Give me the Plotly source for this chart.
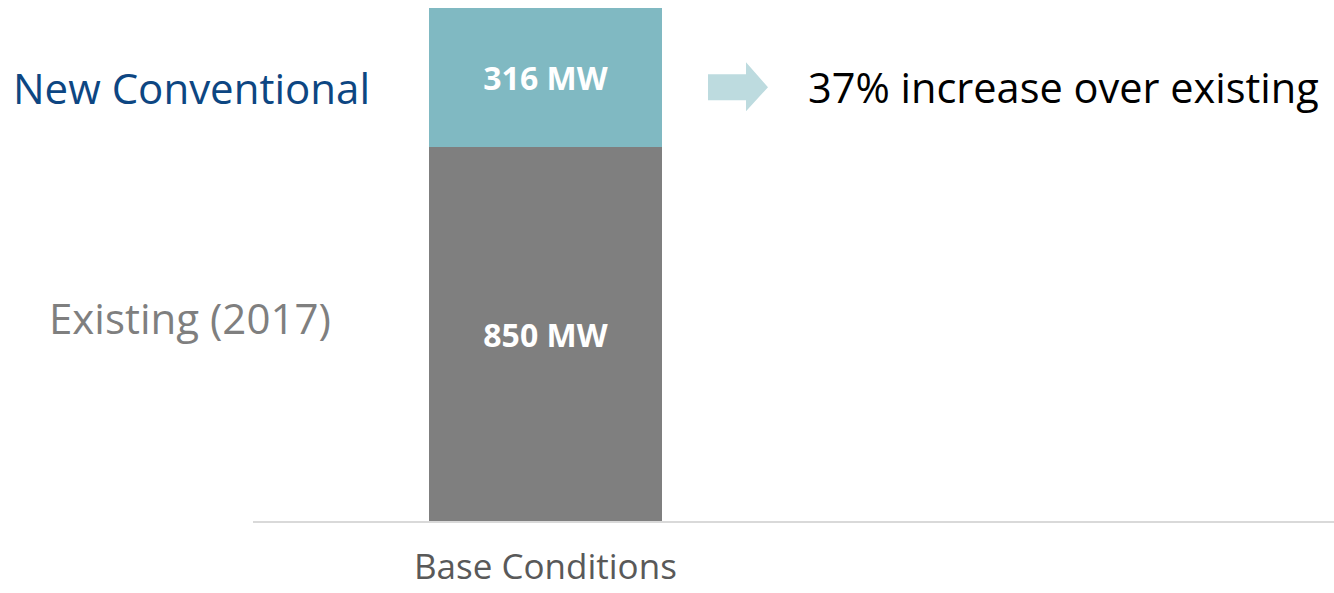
import plotly.graph_objects as go

categories = ["Base Conditions"]
existing_mw = [850]
new_conv_mw = [316]
series_names = ["Existing (2017)", "New Conventional"]
callout_text = "37% increase over existing"

FONT = "Open Sans, Lato, sans-serif"
C_EXIST = "#7f7f7f"
C_NEW = "#80b9c2"
C_ARROW = "#bddbdf"

total = existing_mw[0] + new_conv_mw[0]

fig = go.Figure()
fig.add_trace(go.Bar(
    x=[0], y=existing_mw, width=1, marker=dict(color=C_EXIST, line_width=0),
    text=[f"{v} MW" for v in existing_mw], textposition="inside", insidetextanchor="middle",
    textfont=dict(color="white", size=32, family=FONT, weight="bold"), name=series_names[0],
))
fig.add_trace(go.Bar(
    x=[0], y=new_conv_mw, width=1, marker=dict(color=C_NEW, line_width=0),
    text=[f"{v} MW" for v in new_conv_mw], textposition="inside", insidetextanchor="middle",
    textfont=dict(color="white", size=32, family=FONT, weight="bold"), name=series_names[1],
))

left_units = 292.5 / 233
fig.update_layout(
    barmode="stack",
    width=1334, height=593,
    margin=dict(l=253, r=0, t=8, b=72),
    paper_bgcolor="white", plot_bgcolor="white",
    showlegend=False,
    font=dict(family=FONT),
    xaxis=dict(range=[-left_units, -left_units + 1081 / 233], tickvals=[0], ticktext=[""],
               showgrid=False, zeroline=False, showline=True, linecolor="#d9d9d9", linewidth=2,
               ticks="", showticklabels=False, automargin=False),
    yaxis=dict(range=[0, total], visible=False, fixedrange=True, automargin=False),
    uniformtext=dict(mode=False),
)

# category label under the bar
for i, cat in enumerate(categories):
    fig.add_annotation(x=i, xref="x", y=0, yref="paper", yanchor="bottom", yshift=-70,
                       text=cat, showarrow=False,
                       font=dict(size=35, color="#595959", family=FONT))

new_mid = existing_mw[0] + new_conv_mw[0] * 0.43
ex_mid = existing_mw[0] * 0.543

fig.add_annotation(x=-left_units, xref="x", y=new_mid, yref="y", xanchor="right", xshift=119,
                   text=series_names[1], showarrow=False,
                   font=dict(size=42, color="#0d4682", family=FONT))
fig.add_annotation(x=-left_units, xref="x", y=ex_mid, yref="y", xanchor="right", xshift=80,
                   text=series_names[0], showarrow=False,
                   font=dict(size=42, color="#7f7f7f", family=FONT))
fig.add_annotation(x=0.5, xref="x", y=new_mid, yref="y", xanchor="left", xshift=144,
                   text=callout_text, showarrow=False,
                   font=dict(size=41.5, color="#000000", family=FONT))

# block arrow
fig.add_shape(type="path", xref="x", yref="y", xsizemode="pixel", ysizemode="pixel",
              xanchor=0.5, yanchor=new_mid,
              path="M 46 -13 L 84 -13 L 84 -24 L 106 0 L 84 25 L 84 13 L 46 13 Z",
              fillcolor=C_ARROW, line_width=0)

fig.write_html("out.html")
